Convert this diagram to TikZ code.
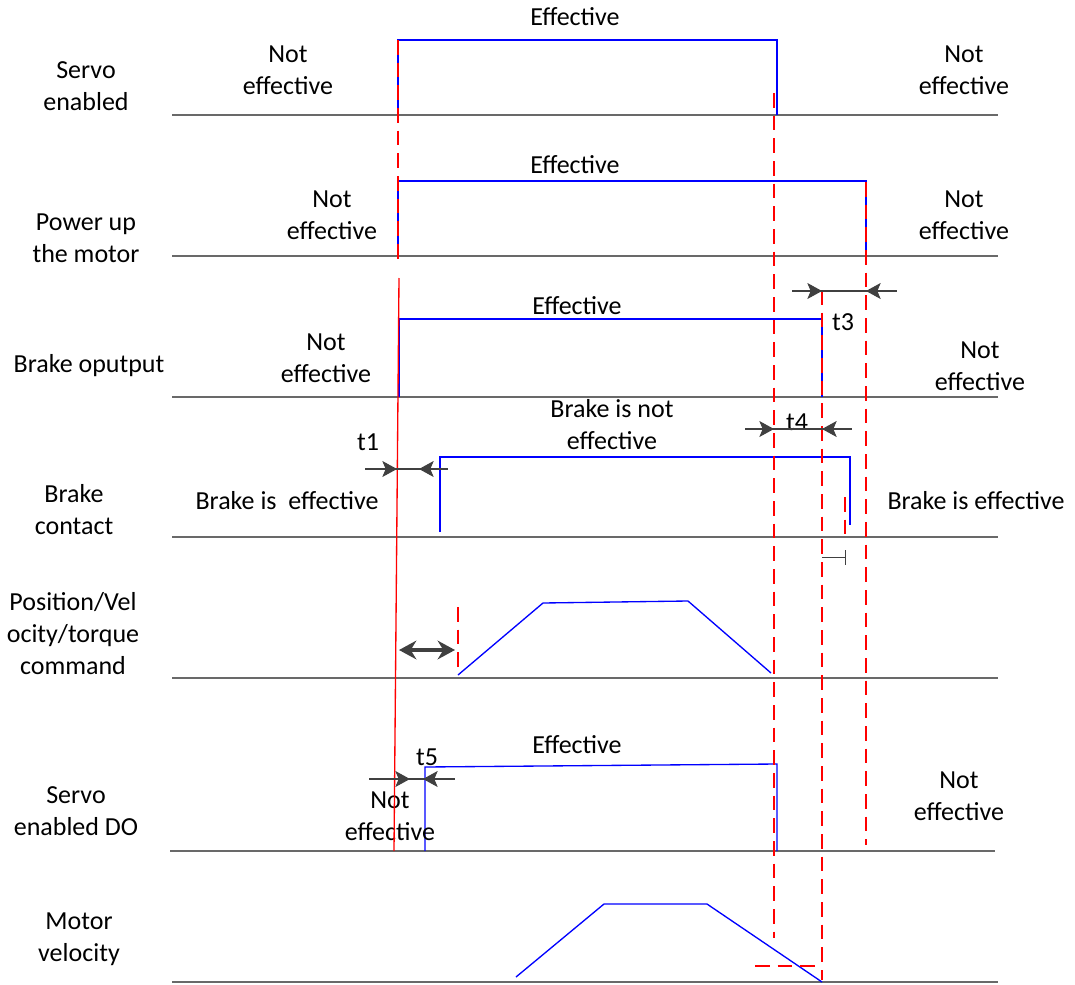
\documentclass[tikz,border=0pt]{standalone}
\usepackage{fontspec}
\setmainfont{Carlito}
\usetikzlibrary{arrows.meta}

\begin{document}
\begin{tikzpicture}[x=0.75pt,y=0.75pt,yscale=-1,xscale=1,
    txt/.style={font=\fontsize{19.5}{24}\selectfont, align=center, inner sep=0pt},
    baseln/.style={color={rgb, 255:red, 105; green, 105; blue, 105}, line width=1pt},
    wave/.style={color={rgb, 255:red, 0; green, 0; blue, 255}, line width=1pt},
    rline/.style={color={rgb, 255:red, 255; green, 0; blue, 0}, line width=1pt},
    rdash/.style={rline, dash pattern=on 11pt off 6pt},
    dim/.style={color={rgb, 255:red, 64; green, 64; blue, 64}, line width=0.8pt},
    dimtip/.style={dim, -{Stealth[length=11pt, width=12pt, inset=2.5pt]}}]

\useasboundingbox (0,0) rectangle (1075,985);

% Row labels
\draw (86,86) node (sen) [txt] {Servo\\enabled};
\draw (86,238) node (pwr) [txt] {Power up\\the motor};
\draw (89,366) node (bko) [txt] {Brake oputput};
\draw (74,510) node (bkc) [txt] {Brake\\contact};
\draw (73,634) node (cmd) [txt] {Position/Vel\\ocity/torque\\command};
\draw (76,811) node (sdo) [txt] {Servo\\enabled DO};
\draw (79,939) node (vel) [txt] {Motor\\velocity};

% Baselines
\draw [baseln] (172,115) -- (998,115);
\draw [baseln] (172,256) -- (998,256);
\draw [baseln] (172,397) -- (998,397);
\draw [baseln] (172,537) -- (998,537);
\draw [baseln] (172,678) -- (998,678);
\draw [baseln] (170,851) -- (995,851);
\draw [baseln] (172,982) -- (998,982);

% Servo enabled
\draw [wave] (398,115) -- (398,40) -- (777,40) -- (777,115);
\draw (575,17) node (eff1) [txt] {Effective};
\draw (288,70) node (ne1l) [txt] {Not\\effective};
\draw (964,70) node (ne1r) [txt] {Not\\effective};

% Power up the motor
\draw [wave] (398,256) -- (398,181) -- (866,181) -- (866,256);
\draw (575,165) node (eff2) [txt] {Effective};
\draw (332,215) node (ne2l) [txt] {Not\\effective};
\draw (964,215) node (ne2r) [txt] {Not\\effective};

% Brake output
\draw [wave] (399,397) -- (399,319) -- (822,319) -- (822,397);
\draw (577,306) node (eff3) [txt] {Effective};
\draw (326,358) node (ne3l) [txt] {Not\\effective};
\draw (980,366) node (ne3r) [txt] {Not\\effective};
\draw (843,322) node (t3) [txt] {t3};

% Brake contact
\draw [wave] (440,532) -- (440,457) -- (850,457) -- (850,525);
\draw (612,425) node (bne) [txt] {Brake is not\\effective};
\draw (287,501) node (be1) [txt] {Brake is\ \ effective};
\draw (976,501) node (be2) [txt] {Brake is effective};
\draw (368,442) node (t1) [txt] {t1};
\draw (797,422) node (t4) [txt] {t4};

% Command
\draw [wave] (458,675) -- (543,603) -- (688,601) -- (771,673);

% Servo enabled DO
\draw [wave] (425,851) -- (425,767) -- (777,764) -- (777,851);
\draw (577,745) node (eff6) [txt] {Effective};
\draw (427,757) node (t5) [txt] {t5};
\draw (390,816) node (ne6l) [txt] {Not\\effective};
\draw (959,796) node (ne6r) [txt] {Not\\effective};

% Motor velocity
\draw [wave] (516,977) -- (604,904) -- (707,904) -- (822,982);

% Red timing lines
\draw [rdash] (398,40) -- (398,265);
\draw [rline] (399,278) -- (394,851);
\draw [rdash] (774,93) -- (774,938);
\draw [rdash] (822,290) -- (822,980);
\draw [rdash] (866,182) -- (866,845);
\draw [rdash] (845,497) -- (845,537);
\draw [rdash] (458,607) -- (458,673);
\draw [rdash] (755,966) -- (822,966);

% Time spans
\draw [dim] (792,291) -- (897,291);
\draw [dimtip] (800,291) -- (822,291);
\draw [dimtip] (890,291) -- (866,291);

\draw [dim] (745,429) -- (852,429);
\draw [dimtip] (752,429) -- (774,429);
\draw [dimtip] (845,429) -- (822,429);

\draw [dim] (365,469) -- (448,469);
\draw [dimtip] (372,469) -- (397,469);
\draw [dimtip] (442,469) -- (419,469);

\draw [dim] (369,779) -- (455,779);
\draw [dimtip] (376,779) -- (410,779);
\draw [dimtip] (448,779) -- (423,779);

\draw [dim, line width=0.6pt] (822,557) -- (845,557);
\draw [dim, line width=0.6pt] (845,550) -- (845,565);

\draw [dim, line width=2.4pt, {Stealth[length=13pt, width=14pt]}-{Stealth[length=13pt, width=14pt]}] (399,650) -- (455,650);

\end{tikzpicture}
\end{document}
